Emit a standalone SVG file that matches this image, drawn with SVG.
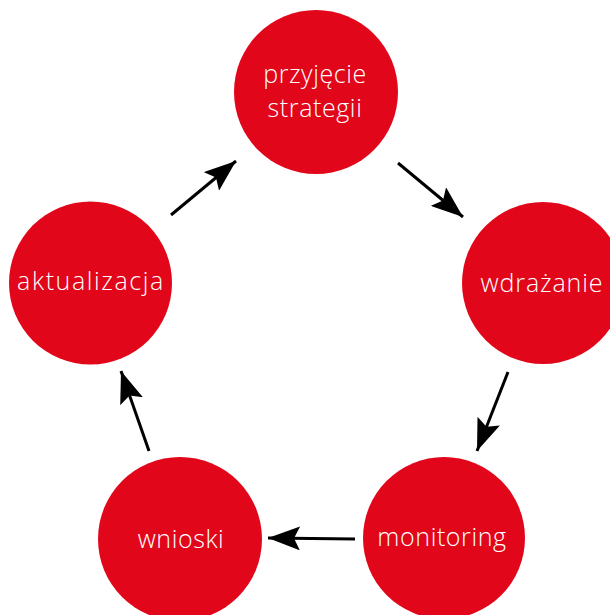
<svg xmlns="http://www.w3.org/2000/svg" width="610" height="615" viewBox="0 0 610 615">
<style>
.node circle{fill:#e1061a}
.node text{fill:#fff;font-family:"Open Sans",Inter,"Liberation Sans",sans-serif;font-weight:300;font-size:25px;letter-spacing:0.6px;text-anchor:middle}
.conn path{stroke:#000;stroke-width:3;fill:none;marker-end:url(#ah)}
</style>
<defs>
<marker id="ah" viewBox="0 0 32 24" refX="32" refY="12" markerWidth="32" markerHeight="24" markerUnits="userSpaceOnUse" orient="auto">
<path d="M0,0 L32,12 L0,24 L6,12 Z" fill="#000"/>
</marker>
</defs>
<rect width="610" height="615" fill="#fff"/>
<g id="n-przyjecie" class="node"><circle cx="316" cy="92" r="82"/><text x="315" y="83">przyjęcie</text><text x="315" y="117">strategii</text></g>
<g id="n-wdrazanie" class="node"><circle cx="543" cy="283" r="81"/><text x="542" y="292" style="letter-spacing:0.9px">wdrażanie</text></g>
<g id="n-monitoring" class="node"><circle cx="444" cy="538" r="81"/><text x="442" y="546">monitoring</text></g>
<g id="n-wnioski" class="node"><circle cx="180" cy="539" r="82"/><text x="181" y="548">wnioski</text></g>
<g id="n-aktualizacja" class="node"><circle cx="90.5" cy="283" r="81.5"/><text x="91" y="290" style="letter-spacing:1.6px">aktualizacja</text></g>
<g id="connectors" class="conn">
<path d="M398,163 L463,217"/>
<path d="M508,372 L477,451"/>
<path d="M355,539 L268,538"/>
<path d="M149,451 L121,371"/>
<path d="M171,215 L236,161"/>
</g>
</svg>
